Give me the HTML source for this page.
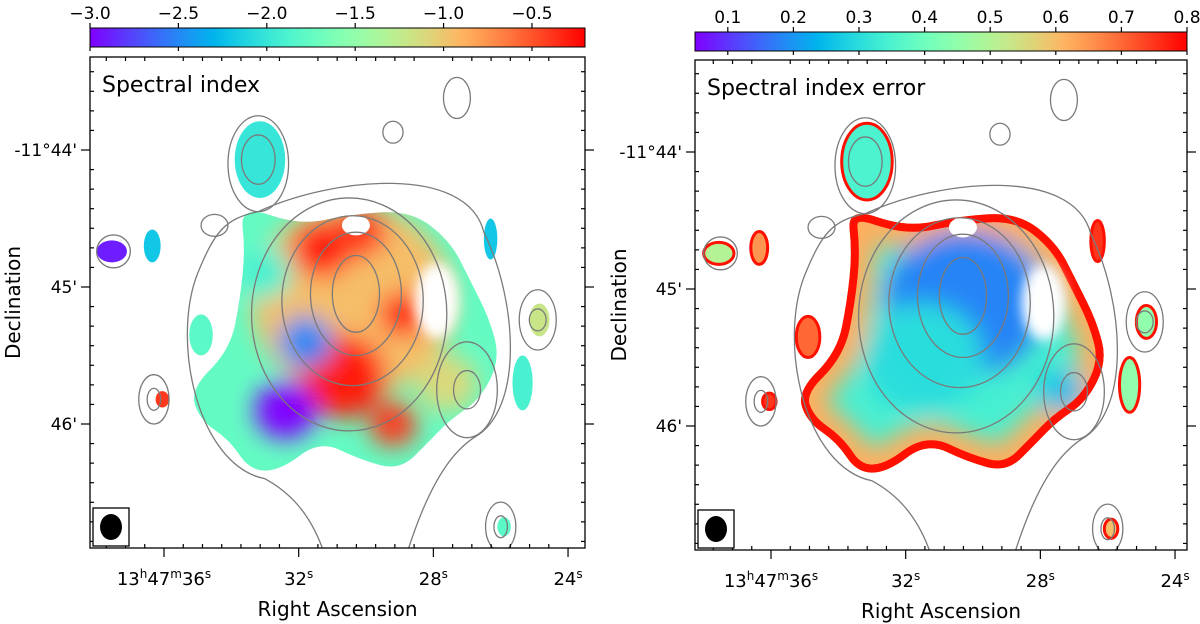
<!DOCTYPE html>
<html><head><meta charset="utf-8">
<style>
html,body{margin:0;padding:0;background:#fff;overflow:hidden;}
svg{display:block;font-family:"DejaVu Sans","Liberation Sans",sans-serif;}
</style></head>
<body>
<svg id="fig" width="1200" height="624" viewBox="0 0 1200 624" xmlns="http://www.w3.org/2000/svg">
<defs>
<filter id="blur" x="-50%" y="-50%" width="200%" height="200%"><feGaussianBlur stdDeviation="12"/></filter>
<filter id="blur2" x="-50%" y="-50%" width="200%" height="200%"><feGaussianBlur stdDeviation="6"/></filter>
</defs>
</svg>
<script>
// ---- data ----
const raTicks = [36, 32, 28, 24];
const raTickLabels = ['13h47m36s', '32s', '28s', '24s'];
const decTicks = [44, 45, 46];
const decTickLabels = ["-11°44'", "45'", "46'"];
const cbarLeftTicks = [-3.0, -2.5, -2.0, -1.5, -1.0, -0.5];
const cbarLeftLabels = ['\u22123.0', '\u22122.5', '\u22122.0', '\u22121.5', '\u22121.0', '\u22120.5'];
const cbarRightTicks = [0.1, 0.2, 0.3, 0.4, 0.5, 0.6, 0.7, 0.8];
const cbarRightLabels = ['0.1', '0.2', '0.3', '0.4', '0.5', '0.6', '0.7', '0.8'];
// main emission outline [RA s, Dec arcmin offset]
const haloRA = [33.74, 31.96, 30.48, 28.69, 27.51, 26.91, 26.32, 26.02, 26.61, 27.51, 28.10, 28.99, 30.18, 31.37, 32.55, 33.45, 34.04, 34.93, 35.23, 34.04, 33.74, 33.59];
const haloDec = [44.40, 44.55, 44.47, 44.44, 44.66, 44.95, 45.24, 45.53, 45.82, 45.97, 46.12, 46.34, 46.26, 46.12, 46.34, 46.34, 46.12, 45.97, 45.75, 45.46, 45.09, 44.73];
// compact sources [RA, Dec, rx(s), ry(arcmin), index, error]
const srcRA  = [33.15, 37.55, 36.35, 34.9, 24.85, 25.35, 36.05, 25.9, 26.3];
const srcDec = [44.07, 44.74, 44.70, 45.35, 45.24, 45.70, 45.82, 46.75, 44.65];
const srcRx  = [0.75, 0.45, 0.25, 0.35, 0.3, 0.3, 0.2, 0.2, 0.2];
const srcRy  = [0.28, 0.08, 0.12, 0.15, 0.12, 0.2, 0.06, 0.07, 0.15];
const srcIdx = [-2.0, -2.9, -2.2, -1.8, -1.2, -1.9, -0.4, -1.8, -2.2];
const srcErr = [0.35, 0.5, 0.65, 0.7, 0.45, 0.45, 0.75, 0.6, 0.75];
// index patches inside halo [RA, Dec, r(s), value]
const patchRA  = [30.4, 31.3, 30.7, 28.9, 32.4, 30.2, 33.0, 27.6, 29.2, 31.8];
const patchDec = [45.10, 44.72, 45.65, 45.20, 45.90, 44.60, 44.90, 45.70, 46.0, 45.4];
const patchR   = [3.0, 0.9, 1.3, 0.7, 0.9, 0.8, 0.8, 0.9, 0.7, 0.8];
const patchVal = [-0.95, -0.3, -0.3, -0.3, -3.0, -0.4, -1.9, -1.1, -0.4, -2.5];
// error patches
const errRA  = [30.25, 27.35, 31.5];
const errDec = [45.10, 45.75, 45.50];
const errR   = [2.4, 0.7, 1.8];
const errVal = [0.18, 0.25, 0.3];
// contours [RA, Dec, rx(s), ry(arcmin)]
const contRA  = [30.3, 30.3, 30.4, 30.5, 27.0, 27.0, 33.2, 33.2, 24.9, 24.9, 36.3, 36.3, 27.3, 26.0, 26.0, 29.2, 34.5, 37.5];
const contDec = [45.05, 45.05, 45.1, 45.2, 45.75, 45.75, 44.07, 44.1, 45.24, 45.24, 45.82, 45.82, 43.62, 46.75, 46.75, 43.87, 44.55, 44.74];
const contRx  = [0.7, 1.35, 2.1, 2.9, 0.4, 0.9, 0.5, 0.9, 0.25, 0.55, 0.2, 0.45, 0.4, 0.2, 0.45, 0.3, 0.4, 0.5];
const contRy  = [0.28, 0.45, 0.62, 0.85, 0.14, 0.35, 0.18, 0.35, 0.08, 0.22, 0.08, 0.18, 0.15, 0.08, 0.18, 0.08, 0.08, 0.12];

const NS = 'http://www.w3.org/2000/svg';
const svg = document.getElementById('fig');
function mk(tag, attrs, parent) {
  const e = document.createElementNS(NS, tag);
  for (const k in attrs) e.setAttribute(k, attrs[k]);
  (parent || svg).appendChild(e);
  return e;
}
function rainbow(t) {
  t = Math.max(0, Math.min(1, t));
  const r = Math.min(1, Math.abs(2 * t - 0.5));
  const g = Math.sin(Math.PI * t);
  const b = Math.cos(Math.PI * t / 2);
  return 'rgb(' + Math.round(r * 255) + ',' + Math.round(g * 255) + ',' + Math.round(b * 255) + ')';
}

function panel(P) {
  const X = ra => P.x0 + (36 - ra) * 33.67;
  const Y = d => P.y0 + (d - 44) * 137;
  const g = mk('g', {});
  
  
  const clipId = 'clip-' + P.name;
  const cp = mk('clipPath', {id: clipId}, g);
  const boxClip = 'box-' + P.name;
  const bcp = mk('clipPath', {id: boxClip}, g);
  mk('rect', {x: P.bx, y: P.by, width: P.bw, height: P.bh}, bcp);
  let d = '';
  for (let i = 0; i < haloRA.length; i++) {
    const xa = X(haloRA[i]), ya = Y(haloDec[i]);
    const j = (i + 1) % haloRA.length;
    const xb = X(haloRA[j]), yb = Y(haloDec[j]);
    if (i === 0) d += 'M' + ((xa + xb) / 2) + ',' + ((ya + yb) / 2);
    else d += ' Q' + xa + ',' + ya + ' ' + ((xa + xb) / 2) + ',' + ((ya + yb) / 2);
  }
  d += ' Q' + X(haloRA[0]) + ',' + Y(haloDec[0]) + ' ' + ((X(haloRA[0]) + X(haloRA[1])) / 2) + ',' + ((Y(haloDec[0]) + Y(haloDec[1])) / 2) + 'Z';
  mk('path', {d: d}, cp);
  const inner = mk('g', {'clip-path': 'url(#' + clipId + ')'}, g);
  const bg = mk('rect', {x: P.bx, y: P.by, width: P.bw, height: P.bh, fill: P.base}, inner);
  
  
  const pg = mk('g', {filter: 'url(#blur)'}, inner);
  if (P.err) {
    mk('path', {d: d, fill: 'none', stroke: P.col(0.62), 'stroke-width': 50}, pg);
    for (let i = 0; i < errRA.length; i++) {
      const c = mk('ellipse', {cx: X(errRA[i]), cy: Y(errDec[i]), rx: errR[i] * 33.67, ry: errR[i] * 33.67 * 0.9, fill: P.col(errVal[i])}, pg);
      
      
    }
    mk('path', {d: d, fill: 'none', stroke: '#ff1000', 'stroke-width': 16}, inner);
  } else {
    for (let i = 0; i < patchRA.length; i++) {
      const c = mk('ellipse', {cx: X(patchRA[i]), cy: Y(patchDec[i]), rx: patchR[i] * 33.67, ry: patchR[i] * 33.67 * 0.95, fill: P.col(patchVal[i])}, pg);
      
      
    }
  }
  // holes
  mk('ellipse', {cx: X(27.9), cy: Y(45.1), rx: 22, ry: 38, fill: '#fff', filter: 'url(#blur2)'}, inner);
  mk('ellipse', {cx: X(30.3), cy: Y(44.55), rx: 14, ry: 10, fill: '#fff'}, inner);
  mk('ellipse', {cx: X(34.8), cy: Y(45.1), rx: 10, ry: 40, fill: '#fff'}, inner);
  // sources
  for (let i = 0; i < srcRA.length; i++) {
    const v = P.err ? srcErr[i] : srcIdx[i];
    const s = mk('ellipse', {cx: X(srcRA[i]), cy: Y(srcDec[i]), rx: srcRx[i] * 33.67, ry: srcRy[i] * 137, fill: P.col(v), stroke: P.err ? '#ff1000' : 'none', 'stroke-width': 3}, g);
    
    
  }
  // contours
  const cg = mk('g', {fill: 'none', stroke: '#7a7a7a', 'stroke-width': 1.3, 'clip-path': 'url(#' + boxClip + ')'}, g);
  for (let i = 0; i < contRA.length; i++) {
    const c = mk('ellipse', {cx: X(contRA[i]), cy: Y(contDec[i]), rx: contRx[i] * 33.67, ry: contRy[i] * 137}, cg);
    
    
  }
  const outer = mk('path', {d: 'M' + X(33.2) + ',' + Y(44.45) + ' C' + X(31) + ',' + Y(44.2) + ' ' + X(27) + ',' + Y(44.1) + ' ' + X(26.5) + ',' + Y(44.6) +
    ' C' + X(25.5) + ',' + Y(45.1) + ' ' + X(25.3) + ',' + Y(45.9) + ' ' + X(26.8) + ',' + Y(46.1) +
    ' C' + X(28) + ',' + Y(46.3) + ' ' + X(28.8) + ',' + Y(46.8) + ' ' + X(29.8) + ',' + Y(47.9) +
    ' M' + X(30.7) + ',' + Y(47.9) + ' C' + X(30.8) + ',' + Y(47) + ' ' + X(31.5) + ',' + Y(46.6) + ' ' + X(33) + ',' + Y(46.4) +
    ' C' + X(35) + ',' + Y(46.3) + ' ' + X(35.8) + ',' + Y(45.4) + ' ' + X(35.0) + ',' + Y(44.9) +
    ' C' + X(34.5) + ',' + Y(44.6) + ' ' + X(34.2) + ',' + Y(44.5) + ' ' + X(33.2) + ',' + Y(44.45)}, cg);
  
  
  // frame
  const fr = mk('rect', {x: P.bx, y: P.by, width: P.bw, height: P.bh, fill: 'none', stroke: '#000', 'stroke-width': 1.3}, g);
  
  
  const tg = mk('g', {stroke: '#000', 'stroke-width': 1.2}, g);
  const bot = P.by + P.bh, right = P.bx + P.bw;
  for (let i = 0; i < raTicks.length; i++) {
    const x = X(raTicks[i]);
    mk('line', {x1: x, x2: x, y1: bot, y2: bot + 9}, tg);
    for (let k = 1; k < 7; k++) {
      const xm = X(raTicks[i] - k * 4 / 7);
      if (xm < right) { mk('line', {x1: xm, x2: xm, y1: bot, y2: bot - 4}, tg); mk('line', {x1: xm, x2: xm, y1: P.by, y2: P.by + 4}, tg); }
      const xp = X(raTicks[i] + k * 4 / 7);
      if (i === 0 && xp > P.bx) { mk('line', {x1: xp, x2: xp, y1: bot, y2: bot - 4}, tg); mk('line', {x1: xp, x2: xp, y1: P.by, y2: P.by + 4}, tg); }
    }
    const t = mk('text', {x: x, y: bot + 37, 'text-anchor': 'middle', 'font-size': 18, fill: '#000', stroke: 'none'}, g);
    
    
    const lab = raTickLabels[i];
    if (lab.length > 4) t.innerHTML = '13<tspan font-size="12" dy="-7">h</tspan><tspan dy="7">47</tspan><tspan font-size="12" dy="-7">m</tspan><tspan dy="7">36</tspan><tspan font-size="12" dy="-7">s</tspan>';
    else t.innerHTML = lab.slice(0, 2) + '<tspan font-size="12" dy="-7">s</tspan>';
  }
  for (let i = 0; i < decTicks.length; i++) {
    const y = Y(decTicks[i]);
    mk('line', {x1: P.bx - 9, x2: P.bx, y1: y, y2: y}, tg);
    mk('line', {x1: right, x2: right + 9, y1: y, y2: y}, tg);
    for (let k = -7; k < 7; k++) {
      if (k === 0) continue;
      const ym = Y(decTicks[i] + k / 7);
      if (ym > P.by && ym < bot && (k > 0 || i === 0)) {
        mk('line', {x1: P.bx, x2: P.bx + 4, y1: ym, y2: ym}, tg);
        mk('line', {x1: right - 4, x2: right, y1: ym, y2: ym}, tg);
      }
    }
    const t = mk('text', {x: P.bx - 13, y: y + 6, 'text-anchor': 'end', 'font-size': 17, fill: '#000', stroke: 'none'}, g);
    t.textContent = decTickLabels[i];
    
    
  }
  // title text
  const tt = mk('text', {x: P.bx + 12, y: P.by + 35, 'font-size': 22, fill: '#000'}, g);
  tt.textContent = P.title;
  
  
  // beam
  const bb = mk('rect', {x: P.bx + 3, y: bot - 40, width: 36, height: 38, fill: '#fff', stroke: '#000', 'stroke-width': 1.3}, g);
  
  
  const be = mk('ellipse', {cx: P.bx + 21, cy: bot - 21, rx: 11, ry: 13, fill: '#000'}, g);
  
  
  // axis labels
  const xl = mk('text', {x: P.bx + P.bw / 2, y: bot + 68, 'text-anchor': 'middle', 'font-size': 20, fill: '#000'}, g);
  xl.textContent = 'Right Ascension';
  
  
  const yl = mk('text', {x: P.ylx, y: P.by + P.bh / 2, 'text-anchor': 'middle', 'font-size': 20, fill: '#000', transform: 'rotate(-90 ' + P.ylx + ' ' + (P.by + P.bh / 2) + ')'}, g);
  yl.textContent = 'Declination';
  
  
  // colorbar
  const gid = 'grad-' + P.name;
  const lg = mk('linearGradient', {id: gid, x1: 0, x2: 1, y1: 0, y2: 0}, g);
  for (let i = 0; i <= 20; i++) mk('stop', {offset: i / 20, 'stop-color': rainbow(i / 20)}, lg);
  const cb = mk('rect', {x: P.bx, y: P.cby, width: P.bw, height: 19, fill: 'url(#' + gid + ')', stroke: '#000', 'stroke-width': 1}, g);
  
  
  const CX = v => P.bx + (v - P.vmin) / (P.vmax - P.vmin) * P.bw;
  for (let i = 0; i < P.cticks.length; i++) {
    const x = CX(P.cticks[i]);
    mk('line', {x1: x, x2: x, y1: P.cby - 5, y2: P.cby}, tg);
    mk('line', {x1: x, x2: x, y1: P.cby + 19, y2: P.cby + 23}, tg);
    const t = mk('text', {x: x, y: P.cby - 9, 'text-anchor': 'middle', 'font-size': 17, fill: '#000', stroke: 'none'}, g);
    t.textContent = P.clabels[i];
    
    
  }
}

panel({name: 'index', x0: 164, y0: 150, bx: 90, by: 57, bw: 495, bh: 491, cby: 28, ylx: 20,
  base: rainbow((-1.75 + 3) / 2.8), col: v => rainbow((v + 3) / 2.8), vmin: -3, vmax: -0.2,
  cticks: cbarLeftTicks, clabels: cbarLeftLabels, title: 'Spectral index', err: false});
panel({name: 'error', x0: 771, y0: 152, bx: 695, by: 60, bw: 492, bh: 490, cby: 32, ylx: 626,
  base: rainbow((0.34 - 0.05) / 0.75), col: v => rainbow((v - 0.05) / 0.75), vmin: 0.05, vmax: 0.8,
  cticks: cbarRightTicks, clabels: cbarRightLabels, title: 'Spectral index error', err: true});
</script>
</body></html>
